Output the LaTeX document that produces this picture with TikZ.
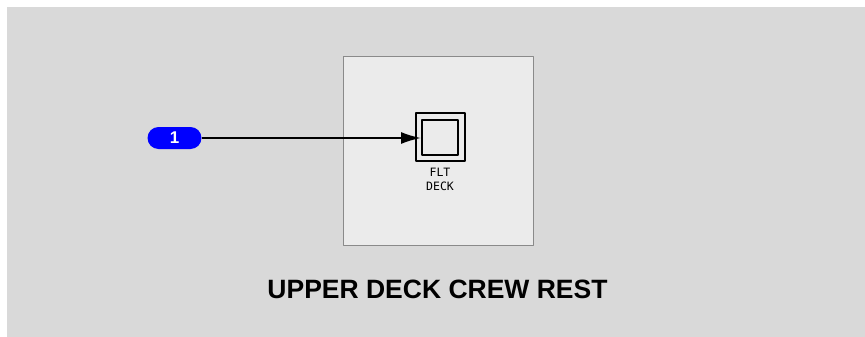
\documentclass[tikz,border=0pt]{standalone}
\usepackage{fontspec}
\setmainfont{Liberation Sans}
\newfontfamily\labelmono{DejaVu Sans Mono}
\usetikzlibrary{arrows.meta}
\definecolor{panelgray}{HTML}{D9D9D9}
\definecolor{roomgray}{HTML}{EBEBEB}
\definecolor{roomedge}{HTML}{8A8A8A}
\definecolor{pinblue}{HTML}{0000FF}
\begin{document}
\begin{tikzpicture}[x=1pt,y=-1pt,>={Latex[length=20pt,width=12pt]},line join=round,
	pin/.style={fill=pinblue,rounded corners=11pt,minimum width=54pt,minimum height=22pt,inner sep=0pt,text=white,font=\bfseries\fontsize{17}{17}\selectfont},
	station/.style={draw,line width=2pt,inner sep=0pt}]
	\useasboundingbox (0,0) rectangle (865,337);
	\fill[panelgray] (7,7) rectangle (865,337);
	\draw[fill=roomgray,draw=roomedge,line width=1.3pt] (343.8,56.2) rectangle (533.8,245.3);
	% flight deck station
	\node[station,minimum width=49pt,minimum height=48pt] (flt) at (440,137.3) {};
	\node[station,minimum width=36pt,minimum height=34.5pt] (fltin) at (flt.center) {};
	\node[font=\labelmono\fontsize{11.5}{13.7}\selectfont,text=black,align=center,inner sep=0pt] (fltlbl) at (440,179.5) {FLT\\DECK};
	% input pin
	\node[pin] (in1) at (174.5,138) {1};
	\draw[->,line width=1.8pt] (in1.east) -- (fltin.west |- in1.east);
	\node[font=\bfseries\fontsize{26.5}{26.5}\selectfont] (title) at (437.5,289.5) {UPPER DECK CREW REST};
\end{tikzpicture}
\end{document}
